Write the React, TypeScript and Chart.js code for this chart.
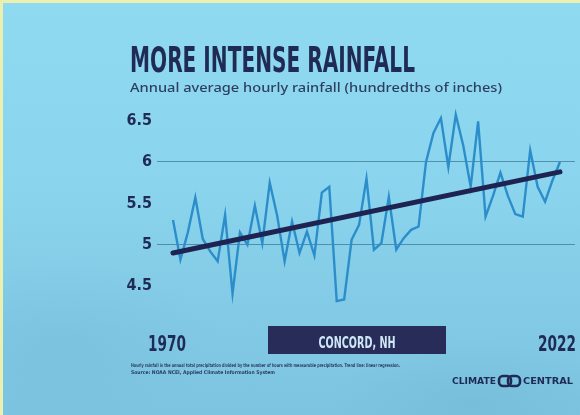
import React, { useEffect, useRef } from "react";
import { Chart, registerables } from "chart.js";

Chart.register(...registerables);

// Annual average hourly rainfall, Concord NH (hundredths of inches)
const years = [
  1970, 1971, 1972, 1973, 1974, 1975, 1976, 1977, 1978, 1979,
  1980, 1981, 1982, 1983, 1984, 1985, 1986, 1987, 1988, 1989,
  1990, 1991, 1992, 1993, 1994, 1995, 1996, 1997, 1998, 1999,
  2000, 2001, 2002, 2003, 2004, 2005, 2006, 2007, 2008, 2009,
  2010, 2011, 2012, 2013, 2014, 2015, 2016, 2017, 2018, 2019,
  2020, 2021, 2022,
];
const rainfall = [
  5.3, 4.82, 5.15, 5.57, 5.07, 4.92, 4.8, 5.36, 4.41, 5.15,
  5.0, 5.47, 5.02, 5.75, 5.35, 4.8, 5.28, 4.9, 5.16, 4.87,
  5.63, 5.7, 4.32, 4.34, 5.06, 5.24, 5.8, 4.94, 5.02, 5.58,
  4.94, 5.08, 5.18, 5.22, 6.0, 6.35, 6.53, 5.94, 6.57, 6.2,
  5.7, 6.49, 5.34, 5.59, 5.87, 5.59, 5.37, 5.34, 6.14, 5.7,
  5.52, 5.78, 6.0,
];
const trendYears = [1970, 2022];
const trendValues = [4.9, 5.88];
const yTicks = [4.5, 5, 5.5, 6, 6.5];
const gridValues = [5, 6];
const endYears = [1970, 2022];

const title = "MORE INTENSE RAINFALL";
const subtitle = "Annual average hourly rainfall (hundredths of inches)";
const station = "CONCORD, NH";
const notes = [
  "Hourly rainfall is the annual total precipitation divided by the number of hours with measurable precipitation. Trend line: linear regression.",
  "Source: NOAA NCEI, Applied Climate Information System",
];
const logoLeft = "CLIMATE";
const logoRight = "CENTRAL";

const NAVY = "#1f2b55";
const CONDENSED = "'Liberation Sans Narrow', 'DejaVu Sans Condensed', 'Liberation Sans', sans-serif";

function fitText(
  ctx: CanvasRenderingContext2D,
  text: string,
  x: number,
  y: number,
  width: number,
  font: string,
  color: string,
  align: "left" | "center" = "left"
) {
  ctx.save();
  ctx.font = font;
  ctx.fillStyle = color;
  ctx.textBaseline = "alphabetic";
  ctx.textAlign = "left";
  const w = ctx.measureText(text).width;
  const s = width / w;
  const left = align === "center" ? x - width / 2 : x;
  ctx.translate(left, y);
  ctx.scale(s, 1);
  ctx.fillText(text, 0, 0);
  ctx.restore();
}

const decorations = {
  id: "decorations",
  afterDraw(chart: any) {
    const ctx: CanvasRenderingContext2D = chart.ctx;
    // headline + subtitle
    fitText(ctx, title, 130, 72, 285, `bold 36px ${CONDENSED}`, NAVY);
    fitText(ctx, subtitle, 130, 92, 372, `500 13px 'Noto Sans', sans-serif`, "#2d3f60");

    // first / last year under the series, placed by the x scale
    const xs = chart.scales.x;
    const p0 = xs.getPixelForValue(endYears[0]);
    const p1 = xs.getPixelForValue(endYears[endYears.length - 1]);
    fitText(ctx, String(endYears[0]), p0 - 6, 351, 38, `bold 22px ${CONDENSED}`, NAVY, "center");
    fitText(ctx, String(endYears[endYears.length - 1]), p1 - 3, 351, 38, `bold 22px ${CONDENSED}`, NAVY, "center");

    // station badge
    ctx.save();
    ctx.fillStyle = "#272c58";
    ctx.fillRect(268, 326, 178, 28);
    ctx.restore();
    fitText(ctx, station, 357, 347.5, 77, `bold 15px ${CONDENSED}`, "#cfe7f5", "center");

    // notes
    fitText(ctx, notes[0], 131, 367, 269, `bold 5px 'DejaVu Sans', sans-serif`, "#2a3d62");
    fitText(ctx, notes[1], 131, 374, 144, `bold 5px 'DejaVu Sans', sans-serif`, "#2a3d62");

    // logo
    fitText(ctx, logoLeft, 452, 384, 44, `bold 8px 'DejaVu Sans', sans-serif`, NAVY);
    fitText(ctx, logoRight, 523, 384, 50, `bold 8px 'DejaVu Sans', sans-serif`, NAVY);
    ctx.save();
    ctx.strokeStyle = NAVY;
    ctx.lineWidth = 2.6;
    const rr = (x: number, y: number, w: number, h: number, r: number) => {
      ctx.beginPath();
      ctx.moveTo(x + r, y);
      ctx.lineTo(x + w - r, y);
      ctx.arcTo(x + w, y, x + w, y + r, r);
      ctx.lineTo(x + w, y + h - r);
      ctx.arcTo(x + w, y + h, x + w - r, y + h, r);
      ctx.lineTo(x + r, y + h);
      ctx.arcTo(x, y + h, x, y + h - r, r);
      ctx.lineTo(x, y + r);
      ctx.arcTo(x, y, x + r, y, r);
      ctx.closePath();
      ctx.stroke();
    };
    rr(499, 376, 12, 10, 4);
    rr(508, 376, 12, 10, 4);
    ctx.restore();
  },
};

export default function App() {
  const canvasRef = useRef<HTMLCanvasElement | null>(null);

  useEffect(() => {
    const canvas = canvasRef.current;
    if (!canvas) return;

    const chart = new Chart(canvas, {
      type: "line",
      data: {
        datasets: [
          {
            label: "Trend",
            data: trendYears.map((x, i) => ({ x, y: trendValues[i] })),
            borderColor: "#1e2352",
            borderWidth: 5,
            borderCapStyle: "round",
            pointRadius: 0,
            tension: 0,
          },
          {
            label: "Hourly rainfall",
            data: years.map((x, i) => ({ x, y: rainfall[i] })),
            borderColor: "#2b8ecb",
            borderWidth: 2.4,
            pointRadius: 0,
            tension: 0,
          },
        ],
      },
      options: {
        animation: false,
        responsive: false,
        maintainAspectRatio: false,
        layout: { padding: { top: 104, left: 100, right: 5, bottom: 44 } },
        plugins: {
          legend: { display: false },
          tooltip: { enabled: false },
          title: { display: false },
        },
        scales: {
          x: {
            type: "linear",
            min: 1967.85,
            max: 2024.02,
            grid: { display: false, drawTicks: false },
            border: { display: false },
            ticks: { display: false },
            afterFit: (s: any) => {
              s.height = 60;
              s.paddingLeft = 0;
              s.paddingRight = 0;
            },
          },
          y: {
            min: 4.2,
            max: 6.7,
            afterBuildTicks: (s: any) => {
              s.ticks = yTicks.map((v) => ({ value: v }));
            },
            afterFit: (s: any) => {
              s.width = 57;
              s.paddingTop = 0;
              s.paddingBottom = 0;
            },
            grid: {
              drawTicks: false,
              lineWidth: 1,
              color: (c: any) =>
                c.tick && gridValues.includes(c.tick.value)
                  ? "rgba(38, 100, 132, 0.6)"
                  : "rgba(0,0,0,0)",
            },
            border: { display: false },
            ticks: {
              padding: 5,
              font: { family: CONDENSED, weight: "bold", size: 16 },
              color: NAVY,
              callback: (v: any) => String(v),
            },
          },
        },
      },
      plugins: [decorations],
    });
    return () => chart.destroy();
  }, []);

  return (
    <div
      style={{
        position: "absolute",
        left: 0,
        top: 0,
        width: 580,
        height: 415,
        background: "#eaf0b0",
        overflow: "hidden",
      }}
    >
      <div
        style={{
          position: "absolute",
          left: 3,
          top: 3,
          right: 0,
          bottom: 0,
          background:
            "radial-gradient(ellipse 220px 120px at 60px 340px, rgba(100,170,205,0.18), rgba(100,170,205,0) 70%)," +
            "radial-gradient(ellipse 200px 90px at 470px 400px, rgba(95,165,200,0.2), rgba(95,165,200,0) 70%)," +
            "linear-gradient(180deg, #8fd9f1 0%, #8bd4ed 45%, #82cae5 75%, #7dc4e0 100%)",
        }}
      />
      <canvas
        ref={canvasRef}
        width={580}
        height={415}
        style={{ position: "absolute", left: 0, top: 0, display: "block" }}
      />
    </div>
  );
}
